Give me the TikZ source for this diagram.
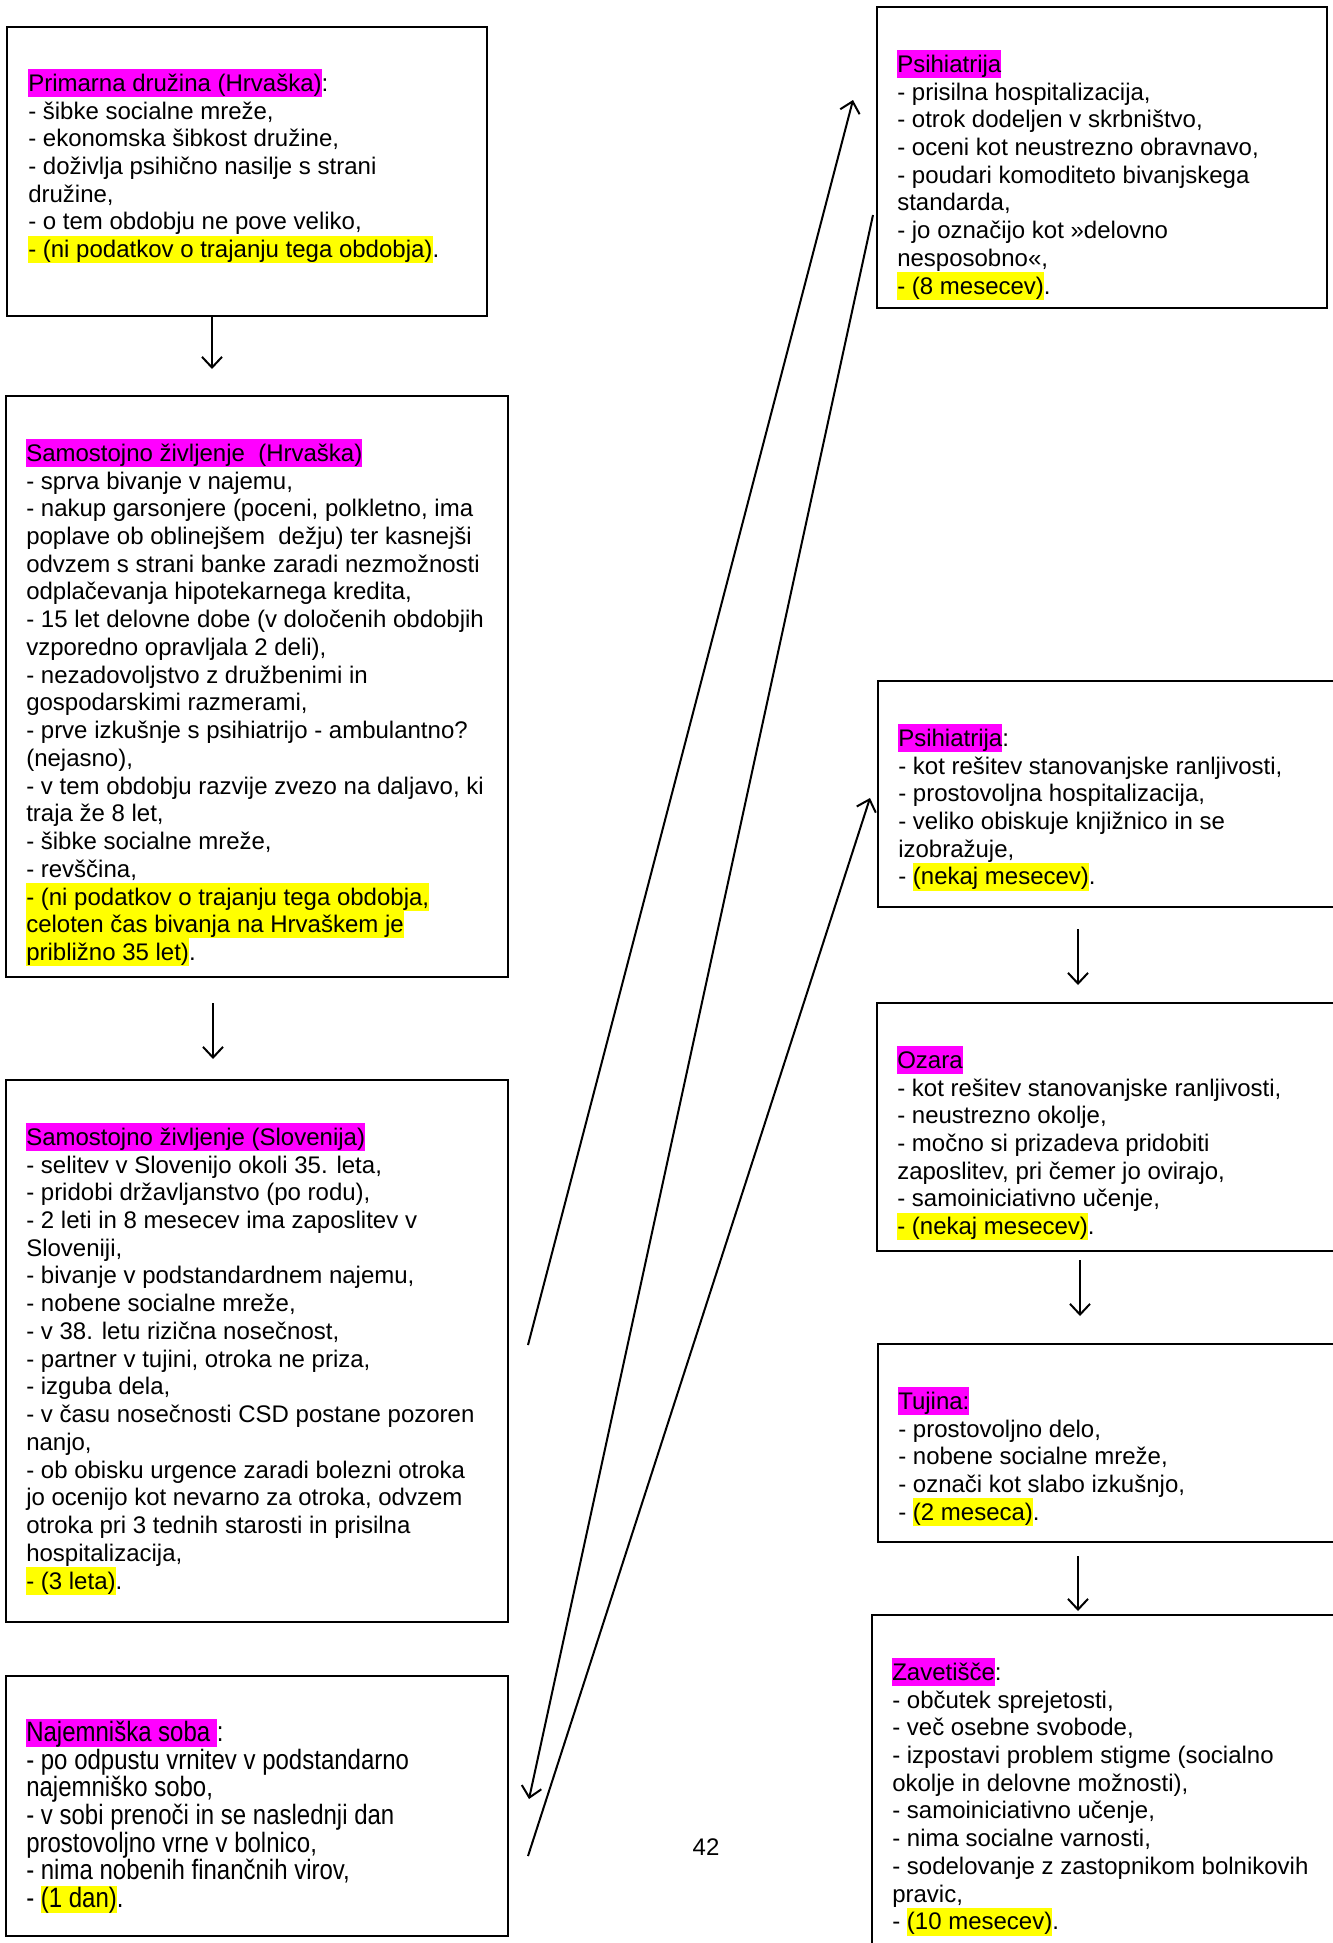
\documentclass[tikz,border=0pt]{standalone}
\usepackage{fontspec}
\setmainfont{Liberation Sans}
\newfontfamily\tallfont[FakeStretch=0.857]{Liberation Sans}
\usetikzlibrary{fit,arrows.meta}
\definecolor{hmag}{RGB}{255,0,255}
\definecolor{hyel}{RGB}{255,255,0}
\newcommand\sr{\rule[-4.3pt]{0pt}{20.8pt}}
\newcommand\hm[1]{{\setlength\fboxsep{0pt}\colorbox{hmag}{\sr#1}}}
\newcommand\hy[1]{{\setlength\fboxsep{0pt}\colorbox{hyel}{\sr#1}}}
\newcommand\nolsk{\lineskiplimit=-30pt\lineskip=0pt}
\tikzset{
  boxst/.style={draw=black, line width=1.3pt, inner sep=0pt, rectangle},
  txt/.style={anchor=north west, inner sep=0pt, align=left, font=\fontsize{18pt}{20.8pt}\selectfont\nolsk},
  conn/.style={line width=1.5pt, -{Straight Barb[length=8pt,width=15pt,line width=1.5pt]}},
}
\begin{document}
\begin{tikzpicture}[x=0.75pt,y=-0.75pt]
\useasboundingbox (0,0) rectangle (1333,1943);
\clip (0,0) rectangle (1333,1943);
% boxes
\node[boxst, fit={(7,27) (487,316)}] (b1) {};
\node[boxst, fit={(6,396) (508,977)}] (b2) {};
\node[boxst, fit={(6,1080) (508,1622)}] (b3) {};
\node[boxst, fit={(6,1676) (508,1936)}] (b4) {};
\node[boxst, fit={(877,7) (1327,308)}] (b5) {};
\node[boxst, fit={(878,681) (1345,907)}] (b6) {};
\node[boxst, fit={(877,1003) (1345,1251)}] (b7) {};
\node[boxst, fit={(878,1344) (1345,1542)}] (b8) {};
\node[boxst, fit={(872,1615) (1345,1960)}] (b9) {};
% texts
\node[txt] (t1) at (28,69) {\sr\hm{Primarna družina (Hrvaška)}:\\
\sr- šibke socialne mreže,\\
\sr- ekonomska šibkost družine,\\
\sr- doživlja psihično nasilje s strani\\
\sr družine,\\
\sr- o tem obdobju ne pove veliko,\\
\sr\hy{- (ni podatkov o trajanju tega obdobja)}.};
\node[txt] (t2) at (26,439) {\sr\hm{Samostojno življenje\ \ (Hrvaška)}\\
\sr- sprva bivanje v najemu,\\
\sr- nakup garsonjere (poceni, polkletno, ima\\
\sr poplave ob oblinejšem\ \ dežju) ter kasnejši\\
\sr odvzem s strani banke zaradi nezmožnosti\\
\sr odplačevanja hipotekarnega kredita,\\
\sr- 15 let delovne dobe (v določenih obdobjih\\
\sr vzporedno opravljala 2 deli),\\
\sr- nezadovoljstvo z družbenimi in\\
\sr gospodarskimi razmerami,\\
\sr- prve izkušnje s psihiatrijo - ambulantno?\\
\sr(nejasno),\\
\sr- v tem obdobju razvije zvezo na daljavo, ki\\
\sr traja že 8 let,\\
\sr- šibke socialne mreže,\\
\sr- revščina,\\
\sr\hy{- (ni podatkov o trajanju tega obdobja,}\\
\sr\hy{celoten čas bivanja na Hrvaškem je}\\
\sr\hy{približno 35 let)}.};
\node[txt] (t3) at (26,1123) {\sr\hm{Samostojno življenje (Slovenija)}\\
\sr- selitev v Slovenijo okoli 35. leta,\\
\sr- pridobi državljanstvo (po rodu),\\
\sr- 2 leti in 8 mesecev ima zaposlitev v\\
\sr Sloveniji,\\
\sr- bivanje v podstandardnem najemu,\\
\sr- nobene socialne mreže,\\
\sr- v 38. letu rizična nosečnost,\\
\sr- partner v tujini, otroka ne priza,\\
\sr- izguba dela,\\
\sr- v času nosečnosti CSD postane pozoren\\
\sr nanjo,\\
\sr- ob obisku urgence zaradi bolezni otroka\\
\sr jo ocenijo kot nevarno za otroka, odvzem\\
\sr otroka pri 3 tednih starosti in prisilna\\
\sr hospitalizacija,\\
\sr\hy{- (3 leta)}.};
\node[txt, font=\fontsize{21pt}{20.8pt}\tallfont\nolsk] (t4) at (26,1719) {\sr\hm{Najemniška soba\ }:\\
\sr- po odpustu vrnitev v podstandarno\\
\sr najemniško sobo,\\
\sr- v sobi prenoči in se naslednji dan\\
\sr prostovoljno vrne v bolnico,\\
\sr- nima nobenih finančnih virov,\\
\sr- \hy{(1 dan)}.};
\node[txt] (t5) at (897,50) {\sr\hm{Psihiatrija}\\
\sr- prisilna hospitalizacija,\\
\sr- otrok dodeljen v skrbništvo,\\
\sr- oceni kot neustrezno obravnavo,\\
\sr- poudari komoditeto bivanjskega\\
\sr standarda,\\
\sr- jo označijo kot »delovno\\
\sr nesposobno«,\\
\sr\hy{- (8 mesecev)}.};
\node[txt] (t6) at (898,724) {\sr\hm{Psihiatrija}:\\
\sr- kot rešitev stanovanjske ranljivosti,\\
\sr- prostovoljna hospitalizacija,\\
\sr- veliko obiskuje knjižnico in se\\
\sr izobražuje,\\
\sr- \hy{(nekaj mesecev)}.};
\node[txt] (t7) at (897,1046) {\sr\hm{Ozara}\\
\sr- kot rešitev stanovanjske ranljivosti,\\
\sr- neustrezno okolje,\\
\sr- močno si prizadeva pridobiti\\
\sr zaposlitev, pri čemer jo ovirajo,\\
\sr- samoiniciativno učenje,\\
\sr\hy{- (nekaj mesecev)}.};
\node[txt] (t8) at (898,1387) {\sr\hm{Tujina:}\\
\sr- prostovoljno delo,\\
\sr- nobene socialne mreže,\\
\sr- označi kot slabo izkušnjo,\\
\sr- \hy{(2 meseca)}.};
\node[txt] (t9) at (892,1658) {\sr\hm{Zavetišče}:\\
\sr- občutek sprejetosti,\\
\sr- več osebne svobode,\\
\sr- izpostavi problem stigme (socialno\\
\sr okolje in delovne možnosti),\\
\sr- samoiniciativno učenje,\\
\sr- nima socialne varnosti,\\
\sr- sodelovanje z zastopnikom bolnikovih\\
\sr pravic,\\
\sr- \hy{(10 mesecev)}.};
\node[font=\fontsize{18pt}{20.8pt}\selectfont, inner sep=0pt] (pg) at (706,1847) {42};
% connector end points
\coordinate (e12) at (212,369);
\coordinate (s23) at (213,1003);
\coordinate (e23) at (213,1059);
\coordinate (s67) at (1078,929);
\coordinate (e67) at (1078,985);
\coordinate (s78) at (1080,1260);
\coordinate (e78) at (1080,1316);
\coordinate (s89) at (1078,1556);
\coordinate (e89) at (1078,1611);
\coordinate (sA) at (528,1345);
\coordinate (eA) at (853,100);
\coordinate (sB) at (873,215);
\coordinate (eB) at (529,1799);
\coordinate (sC) at (528,1856);
\coordinate (eC) at (870,798);
% connectors
\draw[conn] (b1.south -| e12) -- (e12);
\draw[conn] (s23) -- (e23);
\draw[conn] (s67) -- (e67);
\draw[conn] (s78) -- (e78);
\draw[conn] (s89) -- (e89);
\draw[conn] (sA) -- (eA);
\draw[conn] (sB) -- (eB);
\draw[conn] (sC) -- (eC);
\end{tikzpicture}
\end{document}
